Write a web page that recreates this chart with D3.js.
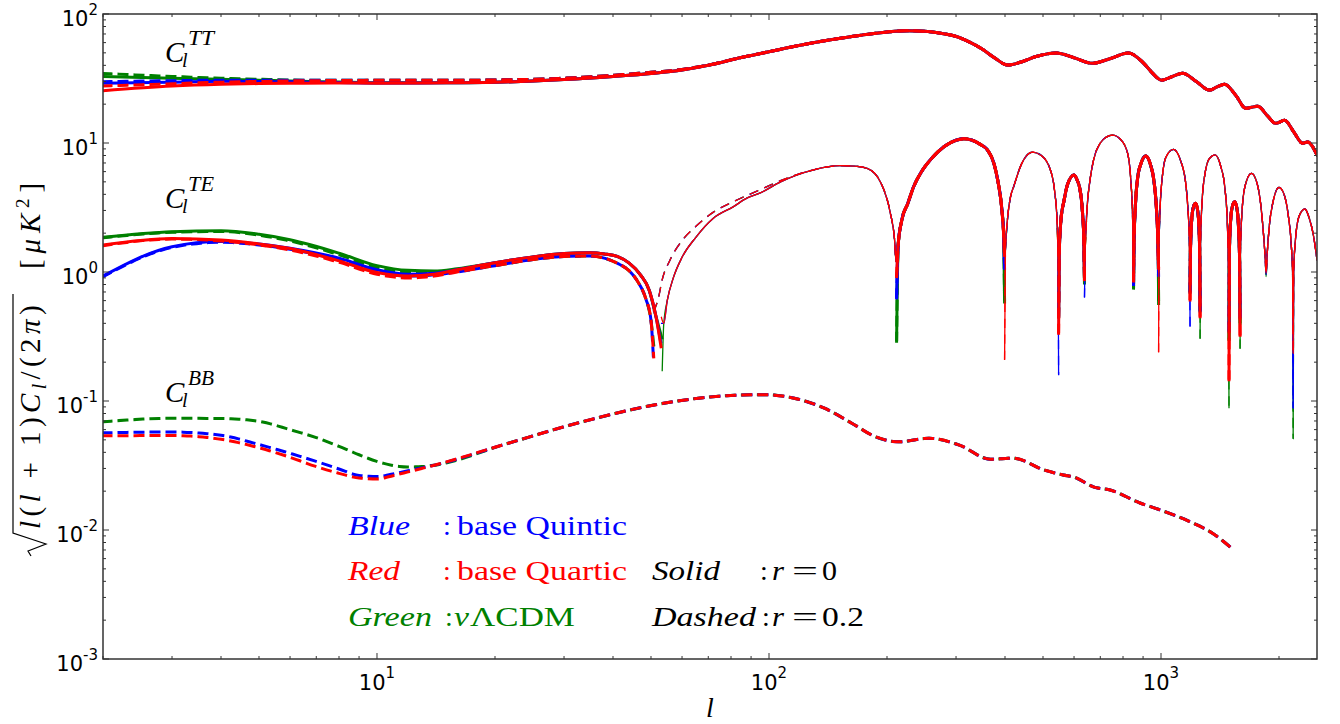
<!DOCTYPE html>
<html>
<head>
<meta charset="utf-8">
<script src="https://cdn.jsdelivr.net/npm/d3@7"></script>
<style>
  body { margin: 0; background: #ffffff; }
  svg { display: block; }
</style>
</head>
<body>
<svg id="chart" width="1340" height="724"></svg>
<script>
// ---------------- TT spectrum ----------------
const ttLowEll = [2, 3, 4, 5, 6, 8, 10];
const ttBlueSolidLow   = [29.0, 29.6, 30.1, 30.0, 29.8, 29.4, 29.2];
const ttBlueDashedLow  = [29.9, 30.4, 30.7, 30.7, 30.7, 30.6, 30.6];
const ttRedSolidLow    = [25.4, 27.6, 28.5, 28.9, 29.0, 29.2, 29.1];
const ttRedDashedLow   = [27.7, 28.8, 29.6, 30.0, 30.3, 30.5, 30.6];
const ttGreenSolidLow  = [32.7, 31.8, 31.2, 30.7, 30.2, 29.7, 29.3];
const ttGreenDashedLow = [34.6, 32.8, 31.8, 31.2, 30.8, 30.6, 30.6];

const ttMidEll    = [15, 20, 25, 30, 40, 50, 60, 70];
const ttSolidMid  = [29.3, 29.6, 30.2, 31.0, 32.8, 34.6, 36.8, 40.0];
const ttDashedMid = [30.6, 30.8, 31.2, 31.8, 33.5, 35.3, 37.2, 40.2];

const ttHighEll = [85, 100, 120, 145, 172, 200, 225, 250, 275, 302, 325, 348, 375, 407, 440, 480,
  541, 600, 668, 740, 826, 900, 950, 1003, 1070, 1135, 1230, 1330, 1390, 1453, 1550, 1644, 1700,
  1765, 1870, 1961, 2068, 2180, 2298, 2364, 2500];
const ttHigh = [46, 51, 57.3, 63.5, 68.5, 72.5, 74.2, 73.4, 70.8, 66.6, 60.5, 54, 46, 40.2, 42.5, 46.8,
  49.8, 45.8, 41.5, 45, 49.8, 42, 35, 30.7, 32.8, 34.7, 30, 25.7, 27.2, 28.5, 23.5, 18.6, 18.9,
  19.3, 16.2, 14.2, 15.0, 12.2, 9.96, 10.2, 8.08];

// ---------------- TE spectrum (signed) ----------------
const teLowEll = [2, 3, 4, 5, 6, 8, 10, 12, 14, 16];
const teBlueSolidLow   = [0.93, 1.57, 1.72, 1.65, 1.53, 1.28, 1.04, 0.96, 0.98, 1.04];
const teBlueDashedLow  = [0.92, 1.55, 1.70, 1.62, 1.50, 1.25, 1.01, 0.93, 0.95, 1.00];
const teRedSolidLow    = [1.62, 1.82, 1.77, 1.65, 1.52, 1.22, 0.99, 0.93, 0.96, 1.04];
const teRedDashedLow   = [1.60, 1.80, 1.74, 1.62, 1.48, 1.19, 0.96, 0.90, 0.93, 1.00];
const teGreenSolidLow  = [1.86, 2.05, 2.09, 1.96, 1.78, 1.40, 1.12, 1.03, 1.02, 1.06];
const teGreenDashedLow = [1.84, 2.03, 2.06, 1.93, 1.74, 1.36, 1.08, 0.99, 0.99, 1.02];

const teMidEllSolid  = [20, 25, 30, 35, 38, 41, 44, 47, 49.5, 51.5];
const teMidSolid     = [1.18, 1.31, 1.39, 1.41, 1.38, 1.32, 1.17, 0.95, 0.72, 0.45];
const teMidEllDashed = [20, 25, 30, 35, 38, 41, 44, 46.5, 48.5, 50];
const teMidDashed    = [1.12, 1.25, 1.32, 1.33, 1.28, 1.17, 1.02, 0.82, 0.62, 0.42];

// first sign change: [ell, depth before, depth after]
const teCrossBlueSolid   = [53.0, 0.28, 0.40];
const teCrossRedSolid    = [53.1, 0.256, 0.45];
const teCrossGreenSolid  = [53.4, 0.30, 0.17];
const teCrossBlueDashed  = [50.7, 0.22, 0.50];
const teCrossRedDashed   = [50.8, 0.22, 0.50];
const teCrossGreenDashed = [51.0, 0.24, 0.50];

const teArchEllSolid  = [53.9, 55, 57, 60, 65, 72, 81, 88, 95, 107, 130];
const teArchSolid     = [-0.40, -0.60, -0.90, -1.30, -1.85, -2.6, -3.2, -3.75, -4.1, -5.0, -6.2];
const teArchEllDashed = [52.3, 53.3, 56, 60, 65, 72, 81, 95, 107, 130];
const teArchDashed    = [-0.64, -0.85, -1.25, -1.75, -2.25, -2.9, -3.5, -4.35, -5.1, -6.2];

const teHighEll = [152, 165, 178, 193, 204, 209, 211,
  213.5, 218, 226, 234, 245, 258, 280, 300, 314, 330, 345, 361, 375, 383, 392, 397,
  401, 406, 413, 421, 440, 470, 495, 522, 535, 543, 546.5,
  550, 556, 565, 578, 600, 612, 620, 630, 635.5,
  640.5, 648, 658, 673, 700, 725, 752, 790, 822, 838, 846, 849.5,
  853, 860, 872, 890, 914, 940, 960, 973, 981, 984.5,
  988, 995, 1008, 1030, 1076, 1120, 1156, 1172, 1181, 1184.5,
  1188, 1196, 1210, 1226, 1240, 1250, 1255.5,
  1261, 1272, 1295, 1330, 1374, 1420, 1455, 1475, 1486,
  1494, 1505, 1520, 1542, 1562, 1577, 1587,
  1595, 1610, 1640, 1701, 1750, 1795, 1825, 1845,
  1865, 1890, 1935, 2000, 2060, 2110, 2150, 2166,
  2180, 2200, 2250, 2327, 2390, 2450, 2500];
const teHigh = [-6.67, -6.62, -6.36, -4.9, -2.85, -1.8, -1.2,
  1.6, 2.5, 3.4, 4.6, 6.0, 7.4, 9.4, 10.5, 10.8, 10.5, 9.8, 8.8, 6.9, 5.2, 3.2, 1.9,
  -1.5, -2.6, -3.8, -4.6, -6.8, -8.5, -8.0, -6.2, -4.3, -2.5, -1.3,
  1.4, 2.6, 3.5, 4.8, 5.64, 5.1, 4.5, 3.0, 1.8,
  -1.5, -3.2, -5.0, -7.4, -10.0, -11.1, -11.5, -10.6, -8.3, -5.0, -2.8, -1.4,
  1.6, 3.2, 5.4, 7.0, 7.93, 6.8, 5.0, 3.2, 1.9, 1.2,
  -1.6, -3.2, -5.5, -7.8, -8.92, -7.4, -4.9, -3.0, -1.8, -1.1,
  1.3, 2.4, 3.2, 3.41, 3.0, 2.2, 1.3,
  -1.6, -3.4, -5.8, -7.6, -8.08, -6.6, -4.5, -2.6, -1.3,
  1.4, 2.5, 3.2, 3.51, 3.1, 2.2, 1.2,
  -1.5, -3.0, -4.7, -5.82, -5.1, -3.4, -2.0, -1.25,
  -1.35, -2.3, -3.6, -4.53, -4.0, -2.8, -1.6, -1.0,
  -1.0, -1.7, -2.7, -3.08, -2.6, -1.9, -1.24];

// minima of |TE|: depth on the left and right side of each one
const teDipEll   = [211.6, 399, 548, 638, 851, 986, 1186, 1258, 1491, 1591, 1854, 2173];
const teDipBlue  = [[1.3, 0.63], [1.04, 1.1], [0.16, 0.45], [0.9, 0.64], [1.3, 0.8], [0.92, 1.2],
  [0.377, 0.7], [0.5, 1.0], [1.0, 0.35], [0.45, 1.0], [0.95, 0.95], [0.088, 0.088]];
const teDipRed   = [[1.3, 0.92], [1.31, 0.21], [1.0, 0.335], [0.85, 1.2], [1.3, 0.85], [1.07, 0.24],
  [1.2, 0.607], [0.45, 1.0], [1.0, 0.146], [0.315, 1.0], [0.98, 0.98], [0.234, 0.234]];
const teDipGreen = [[1.3, 0.29], [0.57, 1.1], [1.0, 0.45], [0.8, 1.2], [1.3, 0.75], [0.555, 1.2],
  [1.2, 0.7], [0.5, 0.306], [0.088, 0.3], [0.4, 0.256], [0.92, 0.92], [0.051, 0.051]];

// ---------------- BB spectrum (r = 0.2 only) ----------------
const bbLowEll   = [2, 3, 4, 5, 6, 7, 8, 9, 10, 11, 12, 13];
const bbBlueLow  = [0.0567, 0.0575, 0.0542, 0.046, 0.0393, 0.034, 0.0297, 0.0265, 0.026, 0.0272, 0.0288, 0.0303];
const bbRedLow   = [0.0537, 0.054, 0.0505, 0.0434, 0.0366, 0.031, 0.0275, 0.0253, 0.0249, 0.0264, 0.0282, 0.0300];
const bbGreenLow = [0.069, 0.0734, 0.0732, 0.0695, 0.060, 0.052, 0.0445, 0.0383, 0.034, 0.0316, 0.0308, 0.0310];
const bbHighEll = [14, 21.6, 33.4, 52.8, 66, 83, 97, 116, 139, 163, 187, 214, 256, 306, 367, 420,
  503, 563, 602, 675, 738, 884, 989, 1185, 1356, 1500];
const bbHigh = [0.0318, 0.047, 0.069, 0.095, 0.105, 0.111, 0.112, 0.105, 0.0875, 0.067, 0.0528, 0.0483,
  0.0514, 0.0455, 0.0354, 0.036, 0.0292, 0.0267, 0.0256, 0.0215, 0.0205, 0.0162, 0.0144, 0.0116, 0.0094, 0.0074];

// ---------------- axes ----------------
const xMajor = [10, 100, 1000];
const xMajorExp = ['1', '2', '3'];
const yMajor = [1e-3, 1e-2, 1e-1, 1, 10, 100];
const yMajorExp = ['-3', '-2', '-1', '0', '1', '2'];

const SERIF = "'Liberation Serif', 'DejaVu Serif', serif";
const SANS = "'DejaVu Sans', sans-serif";
const COLORS = { blue: '#0000ff', red: '#ff0000', green: '#008000' };

const L = 103, R = 1317, T = 14, B = 659;
const x = d3.scaleLog().domain([2, 2500]).range([L, R]);
const y = d3.scaleLog().domain([1e-3, 1e2]).range([B, T]);

const svg = d3.select('#chart');
svg.append('rect').attr('width', 1340).attr('height', 724).attr('fill', '#fff');
svg.append('defs').append('clipPath').attr('id', 'plotclip')
  .append('rect').attr('x', L).attr('y', T).attr('width', R - L).attr('height', B - T);

const zip = (ells, vals) => ells.map((l, i) => [l, vals[i]]);

// --- assemble series ---
const ttSeries = {
  blue:  { solid: [...zip(ttLowEll, ttBlueSolidLow),  ...zip(ttMidEll, ttSolidMid),  ...zip(ttHighEll, ttHigh)],
           dashed: [...zip(ttLowEll, ttBlueDashedLow), ...zip(ttMidEll, ttDashedMid), ...zip(ttHighEll, ttHigh)] },
  red:   { solid: [...zip(ttLowEll, ttRedSolidLow),   ...zip(ttMidEll, ttSolidMid),  ...zip(ttHighEll, ttHigh)],
           dashed: [...zip(ttLowEll, ttRedDashedLow),  ...zip(ttMidEll, ttDashedMid), ...zip(ttHighEll, ttHigh)] },
  green: { solid: [...zip(ttLowEll, ttGreenSolidLow), ...zip(ttMidEll, ttSolidMid),  ...zip(ttHighEll, ttHigh)],
           dashed: [...zip(ttLowEll, ttGreenDashedLow),...zip(ttMidEll, ttDashedMid), ...zip(ttHighEll, ttHigh)] }
};

function teHighWithDips(dips) {
  const pts = [];
  let k = 0;
  teHighEll.forEach((l, i) => {
    while (k < teDipEll.length && teDipEll[k] < l) {
      const prev = pts.length ? Math.sign(pts[pts.length - 1][1]) : Math.sign(teHigh[0]);
      const next = Math.sign(teHigh[i]);
      if (prev !== next) {
        pts.push([teDipEll[k], prev * dips[k][0]]);
        pts.push([teDipEll[k], next * dips[k][1]]);
      } else {
        pts.push([teDipEll[k], prev * dips[k][0]]);
      }
      k++;
    }
    pts.push([l, teHigh[i]]);
  });
  return pts;
}
function teBuild(low, midEll, mid, cross, archEll, arch, dips) {
  return [
    ...zip(teLowEll, low), ...zip(midEll, mid),
    [cross[0], cross[1]], [cross[0], -cross[2]],
    ...zip(archEll, arch), ...teHighWithDips(dips)
  ];
}
const teSeries = {
  blue: {
    solid:  teBuild(teBlueSolidLow,  teMidEllSolid,  teMidSolid,  teCrossBlueSolid,  teArchEllSolid,  teArchSolid,  teDipBlue),
    dashed: teBuild(teBlueDashedLow, teMidEllDashed, teMidDashed, teCrossBlueDashed, teArchEllDashed, teArchDashed, teDipBlue)
  },
  red: {
    solid:  teBuild(teRedSolidLow,  teMidEllSolid,  teMidSolid,  teCrossRedSolid,  teArchEllSolid,  teArchSolid,  teDipRed),
    dashed: teBuild(teRedDashedLow, teMidEllDashed, teMidDashed, teCrossRedDashed, teArchEllDashed, teArchDashed, teDipRed)
  },
  green: {
    solid:  teBuild(teGreenSolidLow,  teMidEllSolid,  teMidSolid,  teCrossGreenSolid,  teArchEllSolid,  teArchSolid,  teDipGreen),
    dashed: teBuild(teGreenDashedLow, teMidEllDashed, teMidDashed, teCrossGreenDashed, teArchEllDashed, teArchDashed, teDipGreen)
  }
};
const bbSeries = {
  blue:  [...zip(bbLowEll, bbBlueLow),  ...zip(bbHighEll, bbHigh)],
  red:   [...zip(bbLowEll, bbRedLow),   ...zip(bbHighEll, bbHigh)],
  green: [...zip(bbLowEll, bbGreenLow), ...zip(bbHighEll, bbHigh)]
};

function splitBySign(pts) {
  const runs = [];
  let cur = null;
  pts.forEach(p => {
    const s = p[1] > 0 ? 1 : -1;
    if (!cur || cur.sign !== s) { cur = { sign: s, pts: [] }; runs.push(cur); }
    cur.pts.push(p);
  });
  return runs;
}

const line = d3.line()
  .x(d => x(d[0]))
  .y(d => y(Math.abs(d[1])))
  .curve(d3.curveMonotoneX);

const plot = svg.append('g').attr('clip-path', 'url(#plotclip)');
const DASH = '8,8';

['green', 'blue', 'red'].forEach(c => {
  ['solid', 'dashed'].forEach(style => {
    const dash = style === 'dashed' ? DASH : null;
    // TT
    plot.append('path').attr('d', line(ttSeries[c][style]))
      .attr('fill', 'none').attr('stroke', COLORS[c]).attr('stroke-width', 3)
      .attr('stroke-dasharray', dash).attr('stroke-linecap', style === 'dashed' ? 'square' : 'butt')
      .attr('stroke-linejoin', 'round');
    // TE: positive part thick, negative part thin
    splitBySign(teSeries[c][style]).forEach(run => {
      plot.append('path').attr('d', line(run.pts))
        .attr('fill', 'none').attr('stroke', COLORS[c])
        .attr('stroke-width', run.sign > 0 ? 3 : 1.3)
        .attr('stroke-dasharray', dash).attr('stroke-linecap', style === 'dashed' ? 'square' : 'butt')
        .attr('stroke-linejoin', 'round');
    });
    // BB (tensor modes only exist for r = 0.2)
    if (style === 'dashed') {
      plot.append('path').attr('d', line(bbSeries[c]))
        .attr('fill', 'none').attr('stroke', COLORS[c]).attr('stroke-width', 3)
        .attr('stroke-dasharray', dash).attr('stroke-linecap', 'square');
    }
  });
});

// --- frame and ticks ---
const axisG = svg.append('g');
const xTicks = [], yTicks = [];
for (let e = 0; e <= 3; e++) for (let m = 1; m < 10; m++) {
  const v = m * Math.pow(10, e);
  if (v >= 2 && v <= 2500) xTicks.push({ v, major: m === 1 });
}
for (let e = -3; e <= 2; e++) for (let m = 1; m < 10; m++) {
  const v = m * Math.pow(10, e);
  if (v <= 100.0001) yTicks.push({ v, major: m === 1 });
}
const TICK_COLOR = '#333';
xTicks.forEach(t => {
  const len = t.major ? 6 : 3, px = x(t.v);
  axisG.append('line').attr('x1', px).attr('x2', px).attr('y1', B).attr('y2', B - len)
    .attr('stroke', TICK_COLOR).attr('stroke-width', 1);
  axisG.append('line').attr('x1', px).attr('x2', px).attr('y1', T).attr('y2', T + len)
    .attr('stroke', TICK_COLOR).attr('stroke-width', 1);
});
yTicks.forEach(t => {
  const len = t.major ? 6 : 3, py = y(t.v);
  axisG.append('line').attr('x1', L).attr('x2', L + len).attr('y1', py).attr('y2', py)
    .attr('stroke', TICK_COLOR).attr('stroke-width', 1);
  axisG.append('line').attr('x1', R).attr('x2', R - len).attr('y1', py).attr('y2', py)
    .attr('stroke', TICK_COLOR).attr('stroke-width', 1);
});
axisG.append('rect').attr('x', L).attr('y', T).attr('width', R - L).attr('height', B - T)
  .attr('fill', 'none').attr('stroke', TICK_COLOR).attr('stroke-width', 1.5);

// tick labels: 10 with a raised exponent
yMajor.forEach((v, i) => {
  const t = axisG.append('text').attr('x', 98).attr('y', y(v) + 12)
    .attr('text-anchor', 'end').attr('font-family', SANS).attr('font-size', 21).attr('fill', '#000');
  t.append('tspan').text('10');
  t.append('tspan').attr('dy', -11).attr('font-size', 15).text(yMajorExp[i]);
});
xMajor.forEach((v, i) => {
  const t = axisG.append('text').attr('x', x(v)).attr('y', 690)
    .attr('text-anchor', 'middle').attr('font-family', SANS).attr('font-size', 21).attr('fill', '#000');
  t.append('tspan').text('10');
  t.append('tspan').attr('dy', -12).attr('font-size', 15).text(xMajorExp[i]);
});

// --- text helpers ---
// Lays out a run of pieces starting at (x0, yb); if a width is given the run is
// stretched to it, either by scaling glyphs or by spreading the letters apart.
function fitText(parent, x0, yb, pieces, size, color, width, spread) {
  const t = parent.append('text').attr('x', 0).attr('y', 0)
    .attr('font-family', SERIF).attr('font-size', size).attr('fill', color);
  pieces.forEach(p => {
    const ts = t.append('tspan').text(p.s);
    if (p.it) ts.attr('font-style', 'italic');
    if (p.dy) ts.attr('dy', p.dy);
    if (p.size) ts.attr('font-size', p.size);
  });
  const len = t.node().getComputedTextLength();
  if (width && spread) {
    const n = pieces.reduce((a, p) => a + p.s.length, 0);
    t.attr('letter-spacing', (width - len) / n);
    t.attr('transform', `translate(${x0},${yb})`);
  } else {
    const sx = width ? width / len : 1;
    t.attr('transform', `translate(${x0},${yb}) scale(${sx},1)`);
  }
  return t;
}

// spectrum names C_l^{XY}
function specLabel(x0, yb, sup) {
  const g = svg.append('g');
  g.append('text').attr('x', x0).attr('y', yb).attr('font-family', SERIF).attr('font-style', 'italic')
    .attr('font-size', 29).attr('fill', '#000').text('C');
  g.append('text').attr('x', x0 + 17).attr('y', yb + 5).attr('font-family', SERIF).attr('font-style', 'italic')
    .attr('font-size', 20).attr('fill', '#000').text('l');
  fitText(g, x0 + 23, yb - 17, [{ s: sup, it: true }], 20, '#000', 26);
}
specLabel(165, 62, 'TT');
specLabel(165, 208, 'TE');
specLabel(165, 402, 'BB');

// legend block
const lg = svg.append('g');
const FS = 28;
fitText(lg, 348, 535, [{ s: 'Blue', it: true }], FS, COLORS.blue, 62);
fitText(lg, 443, 535, [{ s: ':' }], FS, COLORS.blue);
fitText(lg, 457, 535, [{ s: 'base Quintic' }], FS, COLORS.blue, 170);

fitText(lg, 348, 580, [{ s: 'Red', it: true }], FS, COLORS.red, 52);
fitText(lg, 443, 580, [{ s: ':' }], FS, COLORS.red);
fitText(lg, 457, 580, [{ s: 'base Quartic' }], FS, COLORS.red, 170);
fitText(lg, 652, 580, [{ s: 'Solid', it: true }], FS, '#000', 68);
fitText(lg, 760, 580, [{ s: ':' }], FS, '#000');
fitText(lg, 772, 580, [{ s: 'r', it: true }], FS, '#000', 12);
fitText(lg, 792, 580, [{ s: '=' }], FS, '#000', 26);
fitText(lg, 822, 580, [{ s: '0' }], FS, '#000', 15);

fitText(lg, 348, 626, [{ s: 'Green', it: true }], FS, COLORS.green, 84);
fitText(lg, 445, 626, [{ s: ':' }], FS, COLORS.green);
fitText(lg, 454, 626, [{ s: 'ν', it: true }], FS, COLORS.green, 15);
fitText(lg, 470, 626, [{ s: 'ΛCDM' }], FS, COLORS.green, 105);
fitText(lg, 652, 626, [{ s: 'Dashed', it: true }], FS, '#000', 104);
fitText(lg, 762, 626, [{ s: ':' }], FS, '#000');
fitText(lg, 772, 626, [{ s: 'r', it: true }], FS, '#000', 12);
fitText(lg, 792, 626, [{ s: '=' }], FS, '#000', 26);
fitText(lg, 822, 626, [{ s: '0.2' }], FS, '#000', 42);

// x axis label
svg.append('text').attr('x', 706).attr('y', 717).attr('font-family', SERIF).attr('font-style', 'italic')
  .attr('font-size', 28).attr('fill', '#000').text('l');

// y axis label: sqrt(l(l+1) C_l / (2 pi)) [mu K^2], rotated
const yl = svg.append('g').attr('transform', 'translate(40,556) rotate(-90)');
fitText(yl, 27, 0, [
  { s: 'l', it: true }, { s: '(' }, { s: 'l', it: true }, { s: ' + 1)' },
  { s: 'C', it: true }, { s: 'l', it: true, dy: 6, size: 20 }, { s: '/(2', dy: -6 }, { s: 'π', it: true }, { s: ')' }
], 29, '#000', 228, true);
yl.append('path')
  .attr('d', 'M0,-9 L5,-12 L12,6 L23,-27 H262')
  .attr('fill', 'none').attr('stroke', '#000').attr('stroke-width', 1.2).attr('stroke-linejoin', 'miter');
fitText(yl, 287, 0, [
  { s: '[' }, { s: 'μK', it: true }, { s: '2', dy: -11, size: 19 }, { s: ']', dy: 11 }
], 29, '#000', 92, true);
</script>
</body>
</html>
